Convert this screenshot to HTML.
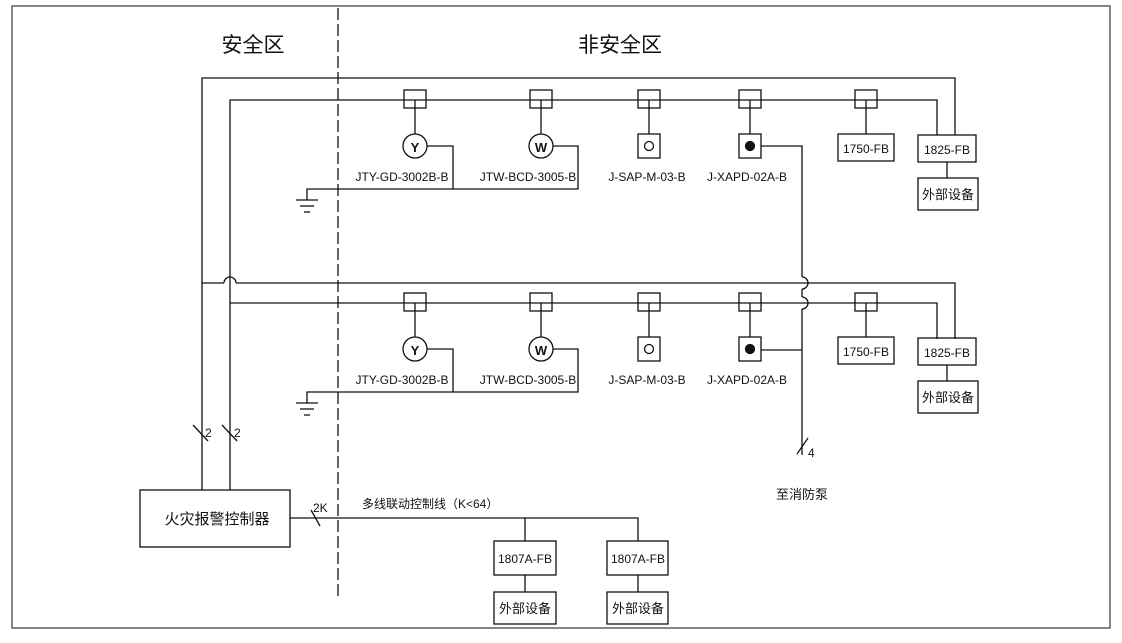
<!DOCTYPE html>
<html><head><meta charset="utf-8"><style>
html,body{margin:0;padding:0;background:#fff;}
svg text{font-family:"Liberation Sans","Noto Sans CJK SC",sans-serif;fill:#111;}
</style></head><body>
<svg width="1122" height="638" viewBox="0 0 1122 638" xmlns="http://www.w3.org/2000/svg" stroke="#111" stroke-width="1.3" fill="none">
<rect x="12" y="6" width="1098" height="622" stroke="#444"/>
<line x1="338" y1="8" x2="338" y2="598" stroke-dasharray="12,4"/>
<text x="253" y="52" font-size="21" text-anchor="middle" stroke="none">安全区</text>
<text x="620" y="52" font-size="21" text-anchor="middle" stroke="none">非安全区</text>

<!-- loops -->
<polyline points="202,490 202,78 955,78 955,135"/>
<polyline points="230,490 230,100 937,100 937,135"/>
<polyline points="202,283 224,283"/>
<path d="M224,283 A6,6 0 0 1 236,283"/>
<polyline points="236,283 955,283 955,339"/>
<polyline points="230,303 937,303 937,339"/>

<!-- row 1 -->
<g id="r1">
<rect x="404" y="90" width="22" height="18"/><line x1="415" y1="100" x2="415" y2="134"/>
<circle cx="415" cy="146" r="12"/><text x="415" y="152" font-size="13" text-anchor="middle" stroke="none" font-weight="bold">Y</text>
<rect x="530" y="90" width="22" height="18"/><line x1="541" y1="100" x2="541" y2="134"/>
<circle cx="541" cy="146" r="12"/><text x="541" y="152" font-size="13" text-anchor="middle" stroke="none" font-weight="bold">W</text>
<rect x="638" y="90" width="22" height="18"/><line x1="649" y1="100" x2="649" y2="134"/>
<rect x="638" y="134" width="22" height="24"/><circle cx="649" cy="146" r="4.5"/>
<rect x="739" y="90" width="22" height="18"/><line x1="750" y1="100" x2="750" y2="134"/>
<rect x="739" y="134" width="22" height="24"/><circle cx="750" cy="146" r="4.5" fill="#111"/>
<rect x="855" y="90" width="22" height="18"/><line x1="866" y1="100" x2="866" y2="134"/>
<rect x="838" y="134" width="56" height="27"/><text x="866" y="153" font-size="12" text-anchor="middle" stroke="none">1750-FB</text>
<rect x="918" y="135" width="58" height="27"/><text x="947" y="154" font-size="12" text-anchor="middle" stroke="none">1825-FB</text>
<line x1="947" y1="162" x2="947" y2="178"/>
<rect x="918" y="178" width="60" height="32"/><text x="948" y="199" font-size="13" text-anchor="middle" stroke="none">外部设备</text>
<g font-size="12" text-anchor="middle" stroke="none" fill="#111">
<text x="402" y="181">JTY-GD-3002B-B</text><text x="528" y="181">JTW-BCD-3005-B</text>
<text x="647" y="181">J-SAP-M-03-B</text><text x="747" y="181">J-XAPD-02A-B</text></g>
<polyline points="427,146 453,146 453,189"/><polyline points="553,146 578,146 578,189 307,189 307,200"/>
<line x1="296" y1="200" x2="318" y2="200"/><line x1="300" y1="206" x2="314" y2="206"/><line x1="304" y1="212" x2="310" y2="212"/>
</g>
<use href="#r1" y="203"/>

<!-- pump line -->
<polyline points="761,146 802,146 802,277"/>
<path d="M802,277 A6,6 0 0 1 802,289"/>
<line x1="802" y1="289" x2="802" y2="297"/>
<path d="M802,297 A6,6 0 0 1 802,309"/>
<line x1="802" y1="309" x2="802" y2="455"/>
<line x1="761" y1="350" x2="802" y2="350"/>
<line x1="797" y1="454" x2="808" y2="438"/>
<text x="808" y="457" font-size="12" stroke="none">4</text>
<text x="802" y="499" font-size="13" text-anchor="middle" stroke="none">至消防泵</text>

<!-- slashes -->
<line x1="193" y1="425" x2="208" y2="441"/><text x="205" y="437" font-size="12" stroke="none">2</text>
<line x1="222" y1="425" x2="237" y2="441"/><text x="234" y="437" font-size="12" stroke="none">2</text>

<!-- controller -->
<rect x="140" y="490" width="150" height="57"/>
<text x="217" y="524" font-size="15" text-anchor="middle" stroke="none">火灾报警控制器</text>
<polyline points="290,518 638,518 638,541"/>
<line x1="525" y1="518" x2="525" y2="541"/>
<line x1="311" y1="510" x2="320" y2="526"/>
<text x="313" y="512" font-size="12" stroke="none">2K</text>
<text x="362" y="508" font-size="12" stroke="none">多线联动控制线（K&lt;64）</text>
<rect x="494" y="541" width="62" height="34"/><text x="525" y="563" font-size="12" text-anchor="middle" stroke="none">1807A-FB</text>
<rect x="607" y="541" width="61" height="34"/><text x="638" y="563" font-size="12" text-anchor="middle" stroke="none">1807A-FB</text>
<line x1="525" y1="575" x2="525" y2="592"/><line x1="638" y1="575" x2="638" y2="592"/>
<rect x="494" y="592" width="62" height="32"/><text x="525" y="613" font-size="13" text-anchor="middle" stroke="none">外部设备</text>
<rect x="607" y="592" width="61" height="32"/><text x="638" y="613" font-size="13" text-anchor="middle" stroke="none">外部设备</text>
</svg>
</body></html>
